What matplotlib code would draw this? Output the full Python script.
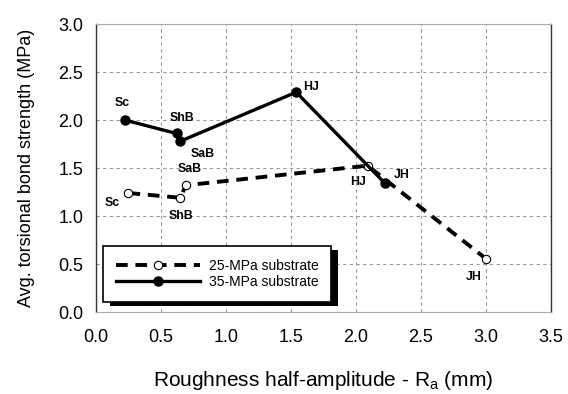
import matplotlib
matplotlib.use("Agg")
import matplotlib.pyplot as plt
from matplotlib.patches import Rectangle

plt.rcParams["font.family"] = ["Liberation Sans", "DejaVu Sans"]
plt.rcParams["mathtext.fontset"] = "custom"
plt.rcParams["mathtext.rm"] = "Liberation Sans"

# ── Data ─────────────────────────────────────────────────────────────
labels = ["Sc", "ShB", "SaB", "HJ", "JH"]

x_25 = [0.25, 0.65, 0.69, 2.09, 3.00]
y_25 = [1.24, 1.19, 1.32, 1.525, 0.555]

x_35 = [0.22, 0.62, 0.65, 1.54, 2.22]
y_35 = [2.00, 1.86, 1.78, 2.29, 1.345]

series_names = ["25-MPa substrate", "35-MPa substrate"]

# label offsets (points) for each point annotation
offs_25 = [(-12, -7), (0, -13), (3, 11.5), (-7, -11.5), (-9, -13)]
offs_35 = [(-1.5, 12), (4, 11), (16, -9), (11, 4), (12, 6)]

# ── Figure ────────────────────────────────────────────────────────────
fig = plt.figure(figsize=(5.68, 3.94), dpi=100)
ax = fig.add_axes([0.169, 0.208, 0.801, 0.731])

ax.plot(x_25, y_25, color="black", lw=2.8, ls=(0, (3.0, 2.0)),
        marker="o", ms=6, mfc="white", mec="black", mew=0.8,
        label=series_names[0], zorder=3)
ax.plot(x_35, y_35, color="black", lw=2.4, ls="-",
        marker="o", ms=6.5, mfc="black", mec="black",
        label=series_names[1], zorder=4)

for lab, xx, yy, off in zip(labels, x_25, y_25, offs_25):
    ax.annotate(lab, (xx, yy), xytext=off, textcoords="offset points",
                ha="center", va="center", fontsize=8.8, fontweight="bold")
for lab, xx, yy, off in zip(labels, x_35, y_35, offs_35):
    ax.annotate(lab, (xx, yy), xytext=off, textcoords="offset points",
                ha="center", va="center", fontsize=8.8, fontweight="bold")

ax.set_xlim(0, 3.5)
ax.set_ylim(0, 3.0)
ax.set_xticks([i * 0.5 for i in range(8)])
ax.set_yticks([i * 0.5 for i in range(7)])
ax.set_xticklabels([f"{i * 0.5:.1f}" for i in range(8)])
ax.set_yticklabels([f"{i * 0.5:.1f}" for i in range(7)])
ax.tick_params(length=0, labelsize=13)
ax.tick_params(axis="x", pad=12)
ax.tick_params(axis="y", pad=9)

ax.grid(True, color="#999999", ls=(0, (3, 3)), lw=0.8)
ax.set_axisbelow(True)
for side in ["top", "bottom"]:
    ax.spines[side].set_color("#aaaaaa")
    ax.spines[side].set_linewidth(0.8)
for side in ["left", "right"]:
    ax.spines[side].set_color("#333333")
    ax.spines[side].set_linewidth(1.0)

ax.set_ylabel("Avg. torsional bond strength (MPa)", fontsize=13, labelpad=17)
ax.set_xlabel(r"Roughness half-amplitude - R$_\mathrm{a}$ (mm)",
              fontsize=15, labelpad=17)

leg = ax.legend(loc="lower left", bbox_to_anchor=(0.0154, 0.0347),
                borderaxespad=0, fancybox=False, fontsize=10,
                handlelength=6.0, handletextpad=0.65, framealpha=1,
                edgecolor="black", borderpad=0.95, labelspacing=0.15)
leg.get_frame().set_linewidth(1.2)
leg.set_zorder(6)

# solid black drop shadow behind the legend box (axes coords)
fig.canvas.draw()
bb = leg.get_window_extent().transformed(ax.transAxes.inverted())
dx = 7 / ax.bbox.width
dy = 4 / ax.bbox.height
shadow = Rectangle((bb.x0 + dx, bb.y0 - dy), bb.width, bb.height,
                   transform=ax.transAxes, facecolor="black",
                   edgecolor="none", zorder=5.5)
ax.add_artist(shadow)

fig.savefig("out.png", dpi=100)
